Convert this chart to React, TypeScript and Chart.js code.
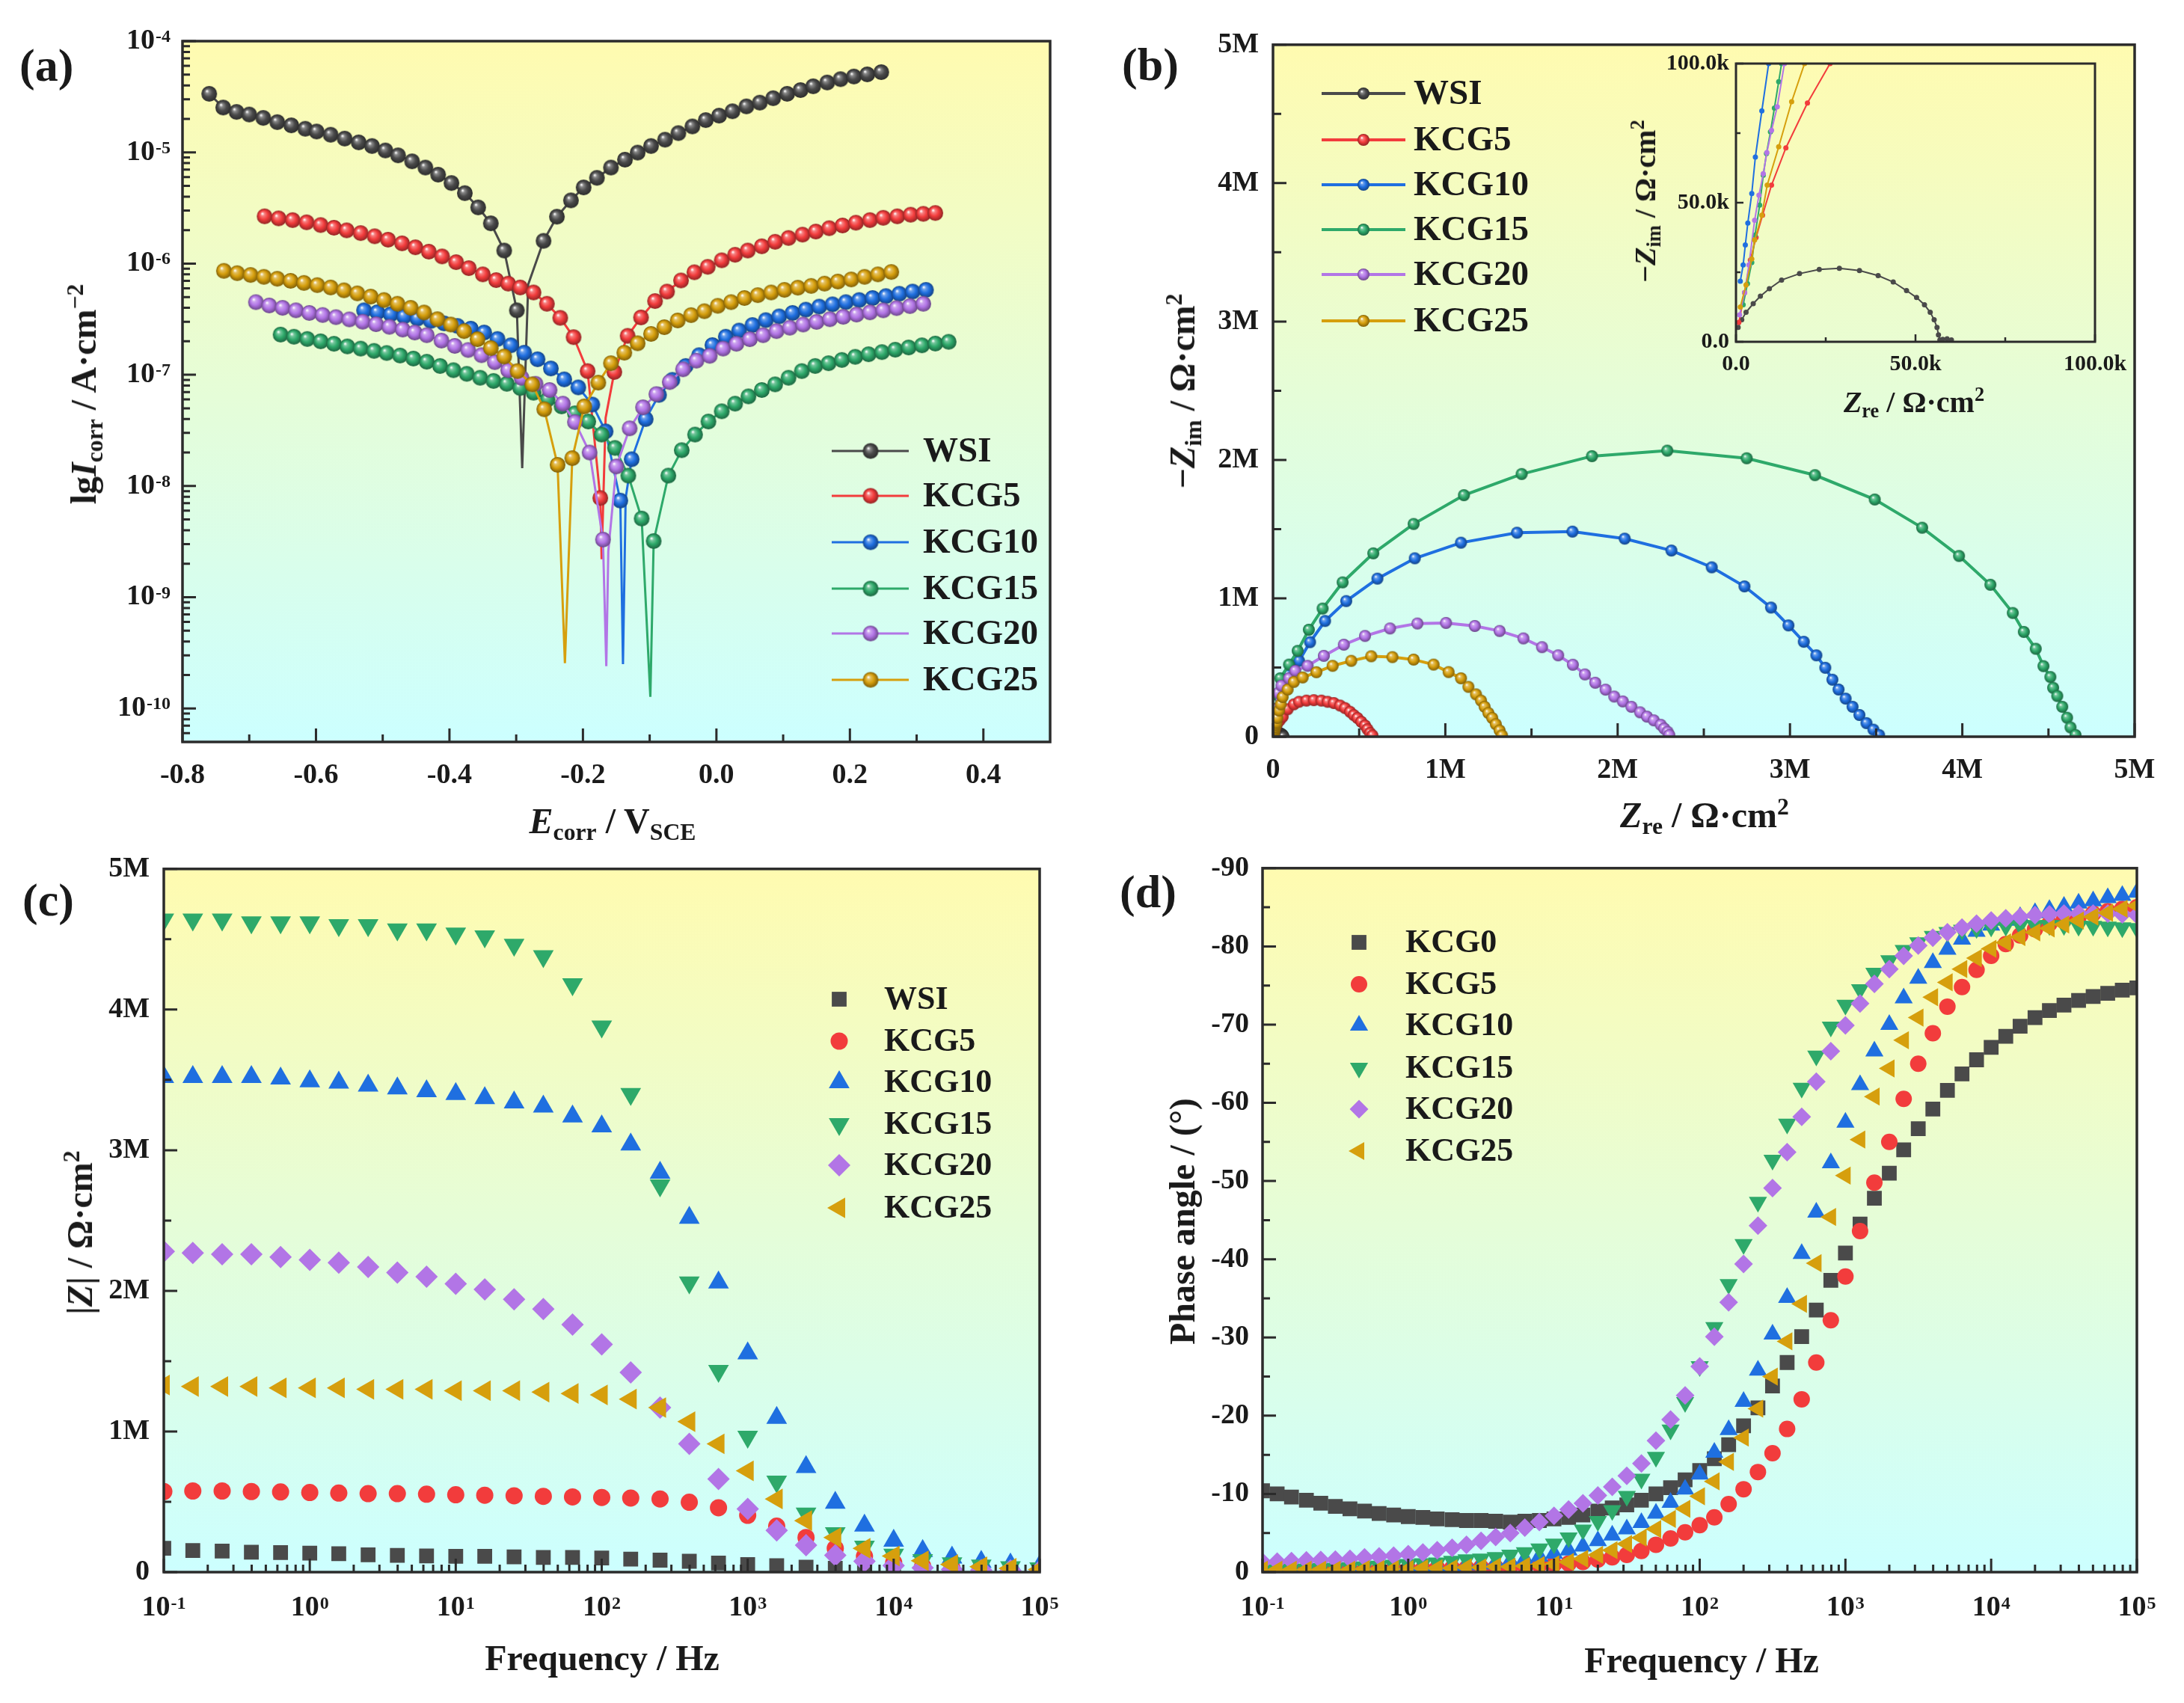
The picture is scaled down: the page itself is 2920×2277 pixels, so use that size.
import React, { useEffect, useRef } from 'react';
import { Chart, registerables } from 'chart.js';

Chart.register(...registerables);

const SERIF = "'Liberation Serif', 'Times New Roman', Times, serif";
const INK = '#1a1a1a';
const FRAME = '#2b2b2b';
const BG_TOP = '#fffbb0';
const BG_BOTTOM = '#ccffff';

const C_WSI = '#4a4a4a';
const C_K5 = '#f23c3c';
const C_K10 = '#1f6fe0';
const C_K15 = '#2ea96a';
const C_K20 = '#b275e6';
const C_K25 = '#d69f0d';
const SERIES_COLORS = [C_WSI, C_K5, C_K10, C_K15, C_K20, C_K25];
const LABELS_ABC = ['WSI', 'KCG5', 'KCG10', 'KCG15', 'KCG20', 'KCG25'];
const LABELS_D = ['KCG0', 'KCG5', 'KCG10', 'KCG15', 'KCG20', 'KCG25'];

// ---------- (a) potentiodynamic polarization: E (V vs SCE), I (A/cm2); lineOnly = indices drawn without marker
const tafelWSI_E = [-0.760, -0.739, -0.719, -0.700, -0.679, -0.658, -0.637, -0.616, -0.599, -0.578, -0.557, -0.536, -0.516, -0.496, -0.477, -0.456, -0.436, -0.417, -0.397, -0.377, -0.357, -0.338, -0.318, -0.299, -0.291, -0.282, -0.259, -0.239, -0.218, -0.199, -0.179, -0.158, -0.137, -0.118, -0.098, -0.077, -0.057, -0.036, -0.016, 0.004, 0.024, 0.045, 0.065, 0.085, 0.106, 0.126, 0.145, 0.166, 0.186, 0.206, 0.226, 0.247];
const tafelWSI_I = [3.36e-5, 2.53e-5, 2.31e-5, 2.19e-5, 2.04e-5, 1.87e-5, 1.75e-5, 1.63e-5, 1.54e-5, 1.44e-5, 1.33e-5, 1.23e-5, 1.14e-5, 1.04e-5, 9.4e-6, 8.3e-6, 7.3e-6, 6.3e-6, 5.3e-6, 4.3e-6, 3.2e-6, 2.3e-6, 1.31e-6, 3.8e-7, 1.45e-8, 6.5e-7, 1.6e-6, 2.64e-6, 3.7e-6, 4.84e-6, 5.9e-6, 7.3e-6, 8.6e-6, 9.95e-6, 1.14e-5, 1.30e-5, 1.49e-5, 1.71e-5, 1.95e-5, 2.14e-5, 2.34e-5, 2.59e-5, 2.80e-5, 3.07e-5, 3.36e-5, 3.63e-5, 3.93e-5, 4.25e-5, 4.55e-5, 4.81e-5, 5.03e-5, 5.26e-5];
const tafelWSI_lineOnly = [24, 25];

const tafelK5_E = [-0.677, -0.656, -0.635, -0.614, -0.593, -0.573, -0.554, -0.533, -0.512, -0.492, -0.471, -0.451, -0.431, -0.411, -0.390, -0.371, -0.350, -0.330, -0.312, -0.294, -0.274, -0.254, -0.234, -0.214, -0.193, -0.174, -0.172, -0.166, -0.153, -0.133, -0.113, -0.092, -0.074, -0.053, -0.033, -0.013, 0.008, 0.028, 0.047, 0.068, 0.088, 0.108, 0.129, 0.149, 0.169, 0.189, 0.209, 0.230, 0.250, 0.271, 0.291, 0.310, 0.328];
const tafelK5_I = [2.66e-6, 2.55e-6, 2.46e-6, 2.35e-6, 2.22e-6, 2.10e-6, 1.99e-6, 1.88e-6, 1.76e-6, 1.64e-6, 1.52e-6, 1.40e-6, 1.28e-6, 1.16e-6, 1.03e-6, 9.1e-7, 8.0e-7, 7.1e-7, 6.6e-7, 6.1e-7, 5.5e-7, 4.35e-7, 3.25e-7, 2.18e-7, 1.08e-7, 7.8e-9, 2.2e-9, 4.1e-8, 1.06e-7, 2.24e-7, 3.28e-7, 4.6e-7, 5.6e-7, 7.05e-7, 8.35e-7, 9.35e-7, 1.07e-6, 1.20e-6, 1.31e-6, 1.43e-6, 1.57e-6, 1.70e-6, 1.82e-6, 1.94e-6, 2.08e-6, 2.20e-6, 2.33e-6, 2.46e-6, 2.58e-6, 2.66e-6, 2.75e-6, 2.80e-6, 2.85e-6];
const tafelK5_lineOnly = [26, 27];

const tafelK10_E = [-0.528, -0.508, -0.488, -0.468, -0.448, -0.428, -0.408, -0.388, -0.368, -0.348, -0.328, -0.308, -0.288, -0.268, -0.248, -0.228, -0.207, -0.186, -0.166, -0.144, -0.140, -0.136, -0.127, -0.106, -0.086, -0.066, -0.046, -0.026, -0.006, 0.014, 0.034, 0.054, 0.074, 0.094, 0.114, 0.134, 0.154, 0.174, 0.194, 0.214, 0.234, 0.254, 0.274, 0.294, 0.314];
const tafelK10_I = [3.8e-7, 3.65e-7, 3.5e-7, 3.35e-7, 3.2e-7, 3.05e-7, 2.9e-7, 2.75e-7, 2.6e-7, 2.4e-7, 2.1e-7, 1.84e-7, 1.58e-7, 1.38e-7, 1.14e-7, 9.1e-8, 7.7e-8, 5.4e-8, 3.1e-8, 7.4e-9, 2.5e-10, 7.8e-9, 1.74e-8, 4.0e-8, 6.6e-8, 9.0e-8, 1.2e-7, 1.5e-7, 1.85e-7, 2.2e-7, 2.5e-7, 2.8e-7, 3.1e-7, 3.35e-7, 3.6e-7, 3.85e-7, 4.1e-7, 4.3e-7, 4.5e-7, 4.7e-7, 4.9e-7, 5.1e-7, 5.35e-7, 5.6e-7, 5.8e-7];
const tafelK10_lineOnly = [20, 21];

const tafelK15_E = [-0.653, -0.633, -0.613, -0.593, -0.573, -0.553, -0.533, -0.513, -0.494, -0.474, -0.454, -0.434, -0.414, -0.394, -0.374, -0.354, -0.334, -0.314, -0.294, -0.274, -0.253, -0.232, -0.212, -0.192, -0.172, -0.152, -0.132, -0.112, -0.099, -0.094, -0.072, -0.052, -0.032, -0.012, 0.008, 0.028, 0.048, 0.068, 0.088, 0.108, 0.128, 0.148, 0.168, 0.188, 0.208, 0.228, 0.248, 0.268, 0.288, 0.308, 0.328, 0.348];
const tafelK15_I = [2.3e-7, 2.2e-7, 2.1e-7, 2.0e-7, 1.9e-7, 1.8e-7, 1.72e-7, 1.64e-7, 1.57e-7, 1.49e-7, 1.4e-7, 1.31e-7, 1.2e-7, 1.1e-7, 1.02e-7, 9.4e-8, 8.8e-8, 8.3e-8, 7.6e-8, 6.9e-8, 6.0e-8, 5.2e-8, 4.5e-8, 3.8e-8, 2.9e-8, 2.2e-8, 1.24e-8, 5.1e-9, 1.27e-10, 3.2e-9, 1.24e-8, 2.1e-8, 2.9e-8, 3.8e-8, 4.7e-8, 5.5e-8, 6.4e-8, 7.3e-8, 8.2e-8, 9.4e-8, 1.08e-7, 1.2e-7, 1.27e-7, 1.36e-7, 1.45e-7, 1.53e-7, 1.6e-7, 1.68e-7, 1.76e-7, 1.84e-7, 1.91e-7, 1.98e-7];
const tafelK15_lineOnly = [28];

const tafelK20_E = [-0.690, -0.670, -0.650, -0.630, -0.610, -0.590, -0.570, -0.550, -0.530, -0.510, -0.490, -0.470, -0.452, -0.434, -0.412, -0.392, -0.372, -0.352, -0.332, -0.312, -0.292, -0.271, -0.250, -0.230, -0.212, -0.190, -0.170, -0.165, -0.162, -0.150, -0.130, -0.110, -0.090, -0.070, -0.050, -0.030, -0.010, 0.010, 0.030, 0.050, 0.070, 0.090, 0.110, 0.130, 0.150, 0.170, 0.190, 0.210, 0.230, 0.250, 0.270, 0.290, 0.310];
const tafelK20_I = [4.5e-7, 4.2e-7, 4.0e-7, 3.8e-7, 3.6e-7, 3.45e-7, 3.3e-7, 3.15e-7, 3.0e-7, 2.85e-7, 2.7e-7, 2.55e-7, 2.4e-7, 2.27e-7, 2.03e-7, 1.82e-7, 1.67e-7, 1.5e-7, 1.3e-7, 1.1e-7, 9.4e-8, 8.3e-8, 7.3e-8, 5.5e-8, 3.76e-8, 2.0e-8, 3.3e-9, 2.4e-10, 2.6e-9, 1.5e-8, 3.3e-8, 5.1e-8, 6.7e-8, 8.6e-8, 1.12e-7, 1.34e-7, 1.48e-7, 1.72e-7, 1.9e-7, 2.09e-7, 2.27e-7, 2.47e-7, 2.65e-7, 2.83e-7, 2.99e-7, 3.16e-7, 3.32e-7, 3.48e-7, 3.64e-7, 3.8e-7, 3.98e-7, 4.15e-7, 4.35e-7];
const tafelK20_lineOnly = [27, 28];

const tafelK25_E = [-0.738, -0.718, -0.698, -0.678, -0.658, -0.638, -0.618, -0.598, -0.578, -0.558, -0.538, -0.518, -0.498, -0.478, -0.458, -0.438, -0.418, -0.398, -0.378, -0.358, -0.338, -0.318, -0.298, -0.276, -0.258, -0.238, -0.227, -0.216, -0.198, -0.177, -0.158, -0.138, -0.118, -0.098, -0.078, -0.058, -0.038, -0.018, 0.002, 0.022, 0.042, 0.062, 0.082, 0.102, 0.122, 0.142, 0.162, 0.182, 0.202, 0.222, 0.242, 0.262];
const tafelK25_I = [8.6e-7, 8.2e-7, 7.9e-7, 7.6e-7, 7.3e-7, 7.0e-7, 6.7e-7, 6.4e-7, 6.1e-7, 5.75e-7, 5.4e-7, 5.05e-7, 4.7e-7, 4.35e-7, 4.0e-7, 3.63e-7, 3.16e-7, 2.83e-7, 2.47e-7, 2.09e-7, 1.74e-7, 1.46e-7, 1.08e-7, 8.2e-8, 4.9e-8, 1.55e-8, 2.55e-10, 1.78e-8, 5.2e-8, 8.5e-8, 1.27e-7, 1.58e-7, 1.92e-7, 2.33e-7, 2.68e-7, 3.08e-7, 3.44e-7, 3.73e-7, 4.17e-7, 4.5e-7, 4.9e-7, 5.2e-7, 5.5e-7, 5.8e-7, 6.07e-7, 6.3e-7, 6.6e-7, 6.9e-7, 7.2e-7, 7.6e-7, 8.0e-7, 8.4e-7];
const tafelK25_lineOnly = [26];

const tafelTicksE = [-0.8, -0.6, -0.4, -0.2, 0, 0.2, 0.4];
const tafelTicksI = [1e-10, 1e-9, 1e-8, 1e-7, 1e-6, 1e-5, 1e-4];

// ---------- (b) Nyquist, values in kOhm cm2
const nyqWSI_re = [0.6, 1.6, 2.8, 4.8, 6.8, 9.3, 12.7, 17.7, 23.2, 28.8, 34.4, 39.6, 43.8, 47.5, 50.3, 52.5, 54.1, 55.2, 56.0, 56.4, 56.8, 57.6, 58.8, 60.0];
const nyqWSI_im = [5.2, 7.9, 10.6, 13.7, 16.4, 19.1, 22.2, 24.5, 26.0, 26.4, 25.6, 23.8, 21.5, 18.4, 15.9, 13.3, 10.6, 7.9, 5.2, 2.5, 0.7, 0.9, 1.1, 0.7];
const nyqK5_re = [0.8, 2.4, 4.0, 5.6, 7.4, 9.9, 13.9, 19.9, 26.2, 40, 56, 85, 121, 151, 194, 237, 281, 317, 353, 389, 418, 447, 469, 490, 512, 534, 548, 563, 577];
const nyqK5_im = [7, 17.7, 29.4, 37.5, 45.5, 56.3, 69.7, 85.8, 100, 120, 144, 198, 234, 252, 261, 264, 261, 252, 243, 225, 207, 180, 156, 135, 108, 81, 54, 27, 9];
const nyqK10_re = [1.2, 2.0, 2.6, 3.3, 4.4, 5.4, 7.2, 9.1, 20, 45, 90, 151, 215, 302, 425, 606, 823, 1091, 1416, 1738, 2041, 2312, 2546, 2736, 2890, 2991, 3080, 3153, 3205, 3246, 3282, 3323, 3363, 3403, 3444, 3484, 3517];
const nyqK10_im = [21.8, 27.6, 34.8, 42.7, 53.3, 66.4, 83, 100, 200, 330, 450, 548, 683, 836, 980, 1142, 1289, 1402, 1474, 1482, 1431, 1345, 1224, 1086, 933, 804, 686, 588, 498, 412, 341, 275, 216, 157, 98, 51, 12];
const nyqK15_re = [2.0, 3.2, 4.4, 5.3, 6.6, 7.6, 8.5, 9.6, 10.7, 11.9, 12.7, 16, 25, 42, 93, 143, 208, 288, 404, 582, 816, 1108, 1443, 1851, 2288, 2749, 3145, 3492, 3767, 3981, 4163, 4293, 4357, 4426, 4471, 4511, 4527, 4551, 4580, 4608, 4628, 4657];
const nyqK15_im = [13.3, 20.9, 28.5, 38.4, 49.1, 59.9, 67.7, 75.5, 84.0, 93.5, 100, 200, 300, 422, 521, 620, 773, 926, 1115, 1325, 1537, 1745, 1898, 2027, 2067, 2012, 1890, 1714, 1510, 1306, 1098, 894, 757, 635, 510, 431, 353, 294, 216, 137, 67, 12];
const nyqK20_re = [1.0, 2.4, 3.6, 5.2, 6.4, 7.6, 8.6, 9.9, 11.5, 13.5, 18, 30, 49, 93, 129, 201, 295, 411, 534, 679, 838, 1004, 1171, 1315, 1453, 1561, 1655, 1740, 1810, 1870, 1930, 1980, 2030, 2080, 2130, 2170, 2210, 2250, 2270, 2290, 2300];
const nyqK20_im = [9.7, 17.7, 27.6, 43.7, 52.7, 60.4, 68, 76, 84.5, 100, 200, 315, 369, 422, 476, 512, 584, 665, 728, 782, 818, 822, 800, 764, 710, 647, 588, 520, 450, 390, 340, 290, 255, 216, 176, 145, 118, 86, 59, 35, 12];
const nyqK25_re = [1.2, 2.8, 4.4, 5.2, 7.2, 8.7, 11.9, 15.5, 19.1, 25, 35, 45, 56, 85, 121, 172, 252, 346, 454, 570, 693, 816, 932, 1019, 1091, 1134, 1178, 1207, 1228, 1250, 1272, 1293, 1315, 1329];
const nyqK25_im = [12.5, 20.4, 29.8, 36.6, 45.5, 56.3, 70.1, 86.3, 100, 135, 189, 234, 287, 341, 396, 428, 466, 512, 548, 581, 575, 557, 521, 467, 422, 360, 306, 261, 216, 171, 135, 90, 45, 9];

const nyqTicksMain = [0, 1000, 2000, 3000, 4000, 5000];
const nyqTicksInset = [0, 50, 100];

// ---------- (c) Bode |Z| (MOhm cm2) vs frequency (Hz)
const freqC = [0.1, 0.158, 0.251, 0.398, 0.631, 1, 1.58, 2.51, 3.98, 6.31, 10, 15.8, 25.1, 39.8, 63.1, 100, 158, 251, 398, 631, 1000, 1580, 2510, 3980, 6310, 10000, 15800, 25100, 39800, 63100, 100000];
const modWSI = [0.17, 0.154, 0.15, 0.142, 0.139, 0.135, 0.131, 0.123, 0.119, 0.115, 0.112, 0.112, 0.108, 0.104, 0.104, 0.1, 0.092, 0.085, 0.077, 0.065, 0.054, 0.046, 0.035, 0.027, 0.019, 0.015, 0.012, 0.008, 0.004, 0.004, 0.004];
const modK5 = [0.573, 0.577, 0.577, 0.573, 0.57, 0.566, 0.562, 0.558, 0.558, 0.554, 0.55, 0.547, 0.543, 0.539, 0.535, 0.531, 0.527, 0.52, 0.497, 0.458, 0.404, 0.327, 0.246, 0.169, 0.112, 0.069, 0.042, 0.027, 0.015, 0.008, 0.004];
const modK10 = [3.52, 3.52, 3.52, 3.52, 3.51, 3.49, 3.48, 3.46, 3.44, 3.42, 3.40, 3.37, 3.34, 3.31, 3.24, 3.17, 3.04, 2.84, 2.52, 2.06, 1.555, 1.097, 0.747, 0.493, 0.331, 0.223, 0.15, 0.104, 0.073, 0.054, 0.042];
const modK15 = [4.64, 4.64, 4.64, 4.62, 4.62, 4.62, 4.60, 4.60, 4.57, 4.57, 4.54, 4.52, 4.46, 4.38, 4.18, 3.88, 3.40, 2.75, 2.06, 1.43, 0.962, 0.643, 0.416, 0.277, 0.181, 0.123, 0.085, 0.062, 0.046, 0.035, 0.027];
const modK20 = [2.28, 2.27, 2.26, 2.26, 2.24, 2.22, 2.20, 2.17, 2.13, 2.10, 2.05, 2.01, 1.94, 1.87, 1.76, 1.62, 1.42, 1.17, 0.912, 0.662, 0.45, 0.296, 0.192, 0.119, 0.077, 0.046, 0.031, 0.019, 0.015, 0.012, 0.008];
const modK25 = [1.33, 1.32, 1.32, 1.32, 1.31, 1.31, 1.31, 1.30, 1.30, 1.30, 1.29, 1.29, 1.29, 1.28, 1.27, 1.26, 1.23, 1.17, 1.07, 0.912, 0.72, 0.52, 0.366, 0.246, 0.169, 0.115, 0.081, 0.054, 0.038, 0.027, 0.019];
const modTicks = [0, 1, 2, 3, 4, 5];

// ---------- (d) Bode phase (deg) vs frequency (Hz)
const freqD = [0.1, 0.126, 0.158, 0.2, 0.251, 0.316, 0.398, 0.501, 0.631, 0.794,
  1, 1.26, 1.58, 2, 2.51, 3.16, 3.98, 5.01, 6.31, 7.94,
  10, 12.6, 15.8, 20, 25.1, 31.6, 39.8, 50.1, 63.1, 79.4,
  100, 126, 158, 200, 251, 316, 398, 501, 631, 794,
  1000, 1260, 1580, 2000, 2510, 3160, 3980, 5010, 6310, 7940,
  10000, 12600, 15800, 20000, 25100, 31600, 39800, 50100, 63100, 79400, 100000];
const phaseK0 = [-10.4, -10.0, -9.6, -9.2, -8.8, -8.4, -8.1, -7.8, -7.5, -7.3,
  -7.1, -7.0, -6.8, -6.7, -6.6, -6.6, -6.5, -6.4, -6.5, -6.6,
  -6.8, -7.0, -7.3, -7.8, -8.2, -8.6, -9.2, -10.0, -10.8, -11.8,
  -13.0, -14.5, -16.3, -18.7, -21.0, -23.8, -26.8, -30.1, -33.5, -37.3,
  -40.8, -44.5, -47.8, -51.0, -54.0, -56.7, -59.2, -61.6, -63.7, -65.5,
  -67.1, -68.5, -69.8, -70.9, -71.8, -72.5, -73.1, -73.6, -74.0, -74.4, -74.7];
const phaseK5 = [-0.3, -0.3, -0.3, -0.3, -0.3, -0.3, -0.3, -0.3, -0.4, -0.4,
  -0.4, -0.4, -0.5, -0.5, -0.5, -0.6, -0.6, -0.7, -0.8, -0.9,
  -1.0, -1.1, -1.3, -1.6, -1.9, -2.2, -2.7, -3.5, -4.3, -5.1,
  -6.0, -7.0, -8.7, -10.6, -12.8, -15.2, -18.3, -22.1, -26.8, -32.2,
  -37.8, -43.6, -49.8, -55.0, -60.5, -65.0, -68.9, -72.3, -74.8, -77.0,
  -78.8, -80.3, -81.4, -82.2, -82.9, -83.4, -83.8, -84.2, -84.5, -84.8, -85.0];
const phaseK10 = [-0.3, -0.3, -0.3, -0.3, -0.3, -0.4, -0.4, -0.4, -0.5, -0.5,
  -0.6, -0.6, -0.7, -0.8, -0.9, -1.0, -1.2, -1.4, -1.7, -2.0,
  -2.4, -2.8, -3.3, -4.0, -4.7, -5.5, -6.3, -7.5, -8.9, -10.6,
  -12.5, -15.3, -18.2, -21.8, -25.8, -30.4, -35.1, -40.7, -46.0, -52.3,
  -57.5, -62.3, -66.6, -70.0, -73.4, -75.9, -77.9, -79.6, -80.9, -81.9,
  -82.7, -83.3, -83.8, -84.3, -84.7, -85.1, -85.5, -85.8, -86.2, -86.5, -86.9];
const phaseK15 = [-0.3, -0.3, -0.4, -0.4, -0.5, -0.5, -0.6, -0.7, -0.8, -0.9,
  -1.0, -1.1, -1.2, -1.4, -1.6, -1.7, -1.9, -2.2, -2.5, -3.0,
  -3.6, -4.4, -5.4, -6.5, -7.9, -9.7, -11.9, -14.7, -18.2, -21.7,
  -26.3, -31.3, -36.8, -41.9, -47.3, -52.7, -57.3, -61.9, -66.0, -69.7,
  -72.5, -74.5, -76.6, -78.2, -79.5, -80.5, -81.3, -81.8, -82.1, -82.3,
  -82.5, -82.6, -82.7, -82.7, -82.7, -82.7, -82.6, -82.6, -82.5, -82.4, -82.3];
const phaseK20 = [-1.3, -1.35, -1.4, -1.5, -1.55, -1.6, -1.7, -1.9, -2.0, -2.1,
  -2.3, -2.5, -2.8, -3.1, -3.5, -4.0, -4.5, -5.0, -5.7, -6.4,
  -7.2, -8.0, -8.8, -9.8, -10.9, -12.3, -13.9, -16.8, -19.5, -22.6,
  -26.3, -30.1, -34.5, -39.4, -44.3, -49.1, -53.7, -58.2, -62.7, -66.6,
  -69.9, -72.7, -75.2, -77.1, -78.8, -80.1, -81.1, -81.8, -82.4, -82.9,
  -83.3, -83.6, -83.8, -84.0, -84.1, -84.2, -84.2, -84.2, -84.2, -84.1, -84.0];
const phaseK25 = [-0.3, -0.3, -0.3, -0.3, -0.3, -0.3, -0.3, -0.4, -0.4, -0.4,
  -0.4, -0.5, -0.5, -0.5, -0.6, -0.6, -0.7, -0.7, -0.8, -0.9,
  -1.0, -1.3, -1.7, -2.2, -2.8, -3.6, -4.4, -5.5, -6.8, -8.1,
  -9.7, -11.6, -14.1, -17.2, -20.9, -25.0, -29.5, -34.3, -39.5, -45.4,
  -50.7, -55.3, -60.8, -64.4, -68.0, -70.9, -73.5, -75.4, -77.1, -78.5,
  -79.7, -80.5, -81.2, -81.8, -82.3, -82.8, -83.3, -83.8, -84.3, -84.8, -85.2];
const phaseTicks = [-90, -80, -70, -60, -50, -40, -30, -20, -10, 0];
const freqTicks = [0.1, 1, 10, 100, 1000, 10000, 100000];

// ---------- helpers
function logMinor(e0: number, e1: number): number[] {
  const out: number[] = [];
  for (let e = e0; e < e1; e++) for (let d = 2; d <= 9; d++) out.push(d * Math.pow(10, e));
  return out;
}
function linMinor(a: number, b: number, step: number): number[] {
  const out: number[] = [];
  for (let v = a; v <= b + 1e-9; v += step) out.push(v);
  return out;
}
function shade(hex: string, f: number): string {
  const n = parseInt(hex.slice(1), 16);
  const ch = [(n >> 16) & 255, (n >> 8) & 255, n & 255];
  const t = f < 0 ? 0 : 255;
  const p = Math.abs(f);
  const m = ch.map((c) => Math.round((t - c) * p + c));
  return `rgb(${m[0]},${m[1]},${m[2]})`;
}
function sphere(color: string, r: number): HTMLCanvasElement {
  const s = Math.ceil(r * 2 + 2);
  const c = document.createElement('canvas');
  c.width = s;
  c.height = s;
  const g = c.getContext('2d')!;
  const cx = s / 2, cy = s / 2;
  const grad = g.createRadialGradient(cx - r * 0.3, cy - r * 0.36, r * 0.04, cx, cy, r);
  grad.addColorStop(0, '#ffffff');
  grad.addColorStop(0.2, shade(color, 0.35));
  grad.addColorStop(0.55, color);
  grad.addColorStop(1, shade(color, -0.4));
  g.fillStyle = grad;
  g.beginPath();
  g.arc(cx, cy, r, 0, Math.PI * 2);
  g.fill();
  return c;
}

type Mk = { label: string; color: string; style: string; rot: number; r: number; img?: HTMLCanvasElement };
function drawMarker(ctx: CanvasRenderingContext2D, m: Mk, x: number, y: number) {
  if (m.img) {
    ctx.drawImage(m.img, x - m.img.width / 2, y - m.img.height / 2);
    return;
  }
  ctx.fillStyle = m.color;
  ctx.beginPath();
  const r = m.r;
  let rad = (m.rot * Math.PI) / 180;
  if (m.style === 'circle') ctx.arc(x, y, r, 0, Math.PI * 2);
  else if (m.style === 'rect') {
    const s = r * Math.SQRT1_2;
    ctx.rect(x - s, y - s, 2 * s, 2 * s);
  } else if (m.style === 'rectRot') {
    ctx.moveTo(x - r, y);
    ctx.lineTo(x, y - r);
    ctx.lineTo(x + r, y);
    ctx.lineTo(x, y + r);
    ctx.closePath();
  } else {
    for (let k = 0; k < 3; k++) {
      const px = x + Math.sin(rad) * r, py = y - Math.cos(rad) * r;
      if (k === 0) ctx.moveTo(px, py);
      else ctx.lineTo(px, py);
      rad += (2 * Math.PI) / 3;
    }
    ctx.closePath();
  }
  ctx.fill();
}

type FrameOpts = { bg: boolean; xMinor: number[]; yMinor: number[]; major: number; minor: number; tickW: number; frameW: number };
function framePlugin(o: FrameOpts) {
  return {
    id: 'frameTicks',
    beforeDatasetsDraw(chart: any) {
      if (!o.bg) return;
      const { ctx, chartArea: a } = chart;
      const g = ctx.createLinearGradient(0, a.top, 0, a.bottom);
      g.addColorStop(0, BG_TOP);
      g.addColorStop(1, BG_BOTTOM);
      ctx.save();
      ctx.fillStyle = g;
      ctx.fillRect(a.left, a.top, a.right - a.left, a.bottom - a.top);
      ctx.restore();
    },
    afterDatasetsDraw(chart: any) {
      const { ctx, chartArea: a, scales } = chart;
      const xs = scales.x, ys = scales.y;
      ctx.save();
      ctx.strokeStyle = FRAME;
      ctx.lineWidth = o.tickW;
      ctx.beginPath();
      xs.ticks.forEach((t: any) => {
        const p = xs.getPixelForValue(t.value);
        ctx.moveTo(p, a.bottom);
        ctx.lineTo(p, a.bottom - o.major);
      });
      o.xMinor.forEach((v) => {
        const p = xs.getPixelForValue(v);
        if (p <= a.left + 1 || p >= a.right - 1) return;
        ctx.moveTo(p, a.bottom);
        ctx.lineTo(p, a.bottom - o.minor);
      });
      ys.ticks.forEach((t: any) => {
        const p = ys.getPixelForValue(t.value);
        ctx.moveTo(a.left, p);
        ctx.lineTo(a.left + o.major, p);
      });
      o.yMinor.forEach((v) => {
        const p = ys.getPixelForValue(v);
        if (p <= a.top + 1 || p >= a.bottom - 1) return;
        ctx.moveTo(a.left, p);
        ctx.lineTo(a.left + o.minor, p);
      });
      ctx.stroke();
      ctx.lineWidth = o.frameW;
      ctx.strokeRect(a.left, a.top, a.right - a.left, a.bottom - a.top);
      ctx.restore();
    },
  };
}

// draws "10" with a raised exponent for the decade ticks of a logarithmic axis
function powLabelPlugin(o: { axis: 'x' | 'y'; size: number; supSize: number; offset: number }) {
  return {
    id: 'powLabels',
    afterDraw(chart: any) {
      const { ctx, chartArea: a } = chart;
      const s = chart.scales[o.axis];
      ctx.save();
      ctx.fillStyle = INK;
      ctx.textAlign = 'left';
      s.ticks.forEach((t: any) => {
        const e = Math.round(Math.log10(t.value));
        const base = '10';
        const exp = String(e);
        ctx.font = `bold ${o.size}px ${SERIF}`;
        const wb = ctx.measureText(base).width;
        ctx.font = `bold ${o.supSize}px ${SERIF}`;
        const we = ctx.measureText(exp).width;
        let x0: number, yc: number;
        if (o.axis === 'y') {
          yc = s.getPixelForValue(t.value);
          x0 = a.left - o.offset - we - wb - 1;
        } else {
          const px = s.getPixelForValue(t.value);
          yc = a.bottom + o.offset;
          x0 = px - (wb + we + 1) / 2;
        }
        ctx.font = `bold ${o.size}px ${SERIF}`;
        ctx.textBaseline = 'middle';
        ctx.fillText(base, x0, yc);
        ctx.font = `bold ${o.supSize}px ${SERIF}`;
        ctx.textBaseline = 'alphabetic';
        ctx.fillText(exp, x0 + wb + 1, yc + 1);
      });
      ctx.restore();
    },
  };
}

type LegendOpts = { items: Mk[]; lineX1?: number; lineX2?: number; lineW?: number; markerX: number; textX: number; rows: number[]; font: number };
function legendPlugin(o: LegendOpts) {
  return {
    id: 'panelLegend',
    afterDraw(chart: any) {
      const ctx: CanvasRenderingContext2D = chart.ctx;
      ctx.save();
      ctx.font = `bold ${o.font}px ${SERIF}`;
      ctx.textAlign = 'left';
      ctx.textBaseline = 'middle';
      o.items.forEach((it, i) => {
        const y = o.rows[i];
        if (o.lineX1 !== undefined && o.lineX2 !== undefined) {
          ctx.strokeStyle = it.color;
          ctx.lineWidth = o.lineW || 3;
          ctx.beginPath();
          ctx.moveTo(o.lineX1, y);
          ctx.lineTo(o.lineX2, y);
          ctx.stroke();
        }
        drawMarker(ctx, it, o.markerX, y);
        ctx.fillStyle = INK;
        ctx.fillText(it.label, o.textX, y + 2);
      });
      ctx.restore();
    },
  };
}

const tickFont = (size: number) => ({ family: SERIF, size, weight: 'bold' as const });

function axisBase(fontSize: number, padding: number, callback: (v: number) => string, fixed: number, horizontal: boolean, ticks: number[]) {
  return {
    grid: { display: false, drawTicks: false },
    border: { display: false },
    afterBuildTicks: (s: any) => {
      s.ticks = ticks.map((v) => ({ value: v }));
    },
    afterFit: (s: any) => {
      if (horizontal) s.height = fixed;
      else s.width = fixed;
    },
    ticks: {
      font: tickFont(fontSize),
      color: INK,
      padding,
      autoSkip: false,
      maxRotation: 0,
      minRotation: 0,
      callback: (v: any) => callback(Number(v)),
    },
  };
}
const blank = () => '';

const commonOpts = (pad: { top: number; right: number }) => ({
  animation: false as const,
  responsive: false,
  maintainAspectRatio: false,
  devicePixelRatio: 1,
  events: [] as any[],
  layout: { padding: { left: 0, top: pad.top, right: pad.right, bottom: 0 } },
  plugins: { legend: { display: false }, tooltip: { enabled: false } },
});

// ---------- layout (page pixels)
const CA = { left: 40, top: 15, w: 1420, h: 1075 };
const CB = { left: 1520, top: 18, w: 1395, h: 1075 };
const CI = { left: 2220, top: 55, w: 650, h: 470 };
const CC = { left: 40, top: 1120, w: 1420, h: 1100 };
const CD = { left: 1520, top: 1120, w: 1395, h: 1100 };

function configA(): any {
  const series = [
    { E: tafelWSI_E, I: tafelWSI_I, skip: tafelWSI_lineOnly },
    { E: tafelK5_E, I: tafelK5_I, skip: tafelK5_lineOnly },
    { E: tafelK10_E, I: tafelK10_I, skip: tafelK10_lineOnly },
    { E: tafelK15_E, I: tafelK15_I, skip: tafelK15_lineOnly },
    { E: tafelK20_E, I: tafelK20_I, skip: tafelK20_lineOnly },
    { E: tafelK25_E, I: tafelK25_I, skip: tafelK25_lineOnly },
  ];
  const R = 10.5;
  const imgs = SERIES_COLORS.map((c) => sphere(c, R));
  const datasets = series.map((s, i) => ({
    label: LABELS_ABC[i],
    data: s.E.map((e, j) => ({ x: e, y: s.I[j] })),
    showLine: true,
    borderColor: SERIES_COLORS[i],
    borderWidth: 3,
    pointStyle: imgs[i],
    pointRadius: s.E.map((_, j) => (s.skip.includes(j) ? 0 : R)),
    pointHoverRadius: 0,
    order: -i,
  }));
  const items: Mk[] = LABELS_ABC.map((l, i) => ({ label: l, color: SERIES_COLORS[i], style: 'sphere', rot: 0, r: R, img: imgs[i] }));
  return {
    type: 'scatter',
    data: { datasets },
    options: {
      ...commonOpts({ top: 40, right: 56 }),
      scales: {
        x: { type: 'linear', min: -0.8, max: 0.5, ...axisBase(38, 22, (v) => v.toFixed(1), 98, true, tafelTicksE) },
        y: { type: 'logarithmic', min: 5e-11, max: 1e-4, ...axisBase(38, 16, blank, 204, false, tafelTicksI) },
      },
    },
    plugins: [
      framePlugin({ bg: true, xMinor: linMinor(-0.7, 0.5, 0.2), yMinor: logMinor(-11, -4), major: 18, minor: 10, tickW: 3, frameW: 3.5 }),
      powLabelPlugin({ axis: 'y', size: 38, supSize: 24, offset: 16 }),
      legendPlugin({ items, lineX1: 1112 - CA.left, lineX2: 1215 - CA.left, lineW: 3, markerX: 1164 - CA.left, textX: 1234 - CA.left, rows: [603, 663, 725, 787, 847, 909].map((y) => y - CA.top), font: 47 }),
    ],
  };
}

function nyqSeries() {
  return [
    { re: nyqWSI_re, im: nyqWSI_im },
    { re: nyqK5_re, im: nyqK5_im },
    { re: nyqK10_re, im: nyqK10_im },
    { re: nyqK15_re, im: nyqK15_im },
    { re: nyqK20_re, im: nyqK20_im },
    { re: nyqK25_re, im: nyqK25_im },
  ];
}

function configB(): any {
  const R = 8;
  const imgs = SERIES_COLORS.map((c) => sphere(c, R));
  const datasets = nyqSeries().map((s, i) => ({
    label: LABELS_ABC[i],
    data: s.re.map((x, j) => ({ x, y: s.im[j] })),
    showLine: true,
    borderColor: SERIES_COLORS[i],
    borderWidth: 4,
    pointStyle: imgs[i],
    pointRadius: R,
    pointHoverRadius: 0,
    order: -i,
  }));
  const items: Mk[] = LABELS_ABC.map((l, i) => ({ label: l, color: SERIES_COLORS[i], style: 'sphere', rot: 0, r: R, img: imgs[i] }));
  const mLabel = (v: number) => (v === 0 ? '0' : `${v / 1000}M`);
  return {
    type: 'scatter',
    data: { datasets },
    options: {
      ...commonOpts({ top: 40, right: 61 }),
      scales: {
        x: { type: 'linear', min: 0, max: 5000, ...axisBase(38, 22, mLabel, 108, true, nyqTicksMain) },
        y: { type: 'linear', min: 0, max: 5000, ...axisBase(38, 19, mLabel, 182, false, nyqTicksMain) },
      },
    },
    plugins: [
      framePlugin({ bg: true, xMinor: linMinor(500, 4500, 1000), yMinor: linMinor(500, 4500, 1000), major: 18, minor: 11, tickW: 3, frameW: 3.5 }),
      legendPlugin({ items, lineX1: 1767 - CB.left, lineX2: 1879 - CB.left, lineW: 4, markerX: 1823 - CB.left, textX: 1890 - CB.left, rows: [125, 187, 247, 307, 367, 429].map((y) => y - CB.top), font: 47 }),
    ],
  };
}

function configInset(): any {
  const datasets = nyqSeries().map((s, i) => ({
    label: LABELS_ABC[i],
    data: s.re.map((x, j) => ({ x, y: s.im[j] })),
    showLine: true,
    borderColor: SERIES_COLORS[i],
    borderWidth: 2,
    pointStyle: 'circle',
    pointBackgroundColor: SERIES_COLORS[i],
    pointBorderWidth: 0,
    pointRadius: 3.5,
    pointHoverRadius: 0,
    clip: 0,
    order: -i,
  }));
  const kLabel = (v: number) => (v === 0 ? '0.0' : `${v.toFixed(1)}k`);
  return {
    type: 'scatter',
    data: { datasets },
    options: {
      ...commonOpts({ top: 30, right: 69 }),
      scales: {
        x: { type: 'linear', min: 0, max: 100, ...axisBase(30, 12, kLabel, 68, true, nyqTicksInset) },
        y: { type: 'linear', min: 0, max: 100, ...axisBase(30, 9, kLabel, 101, false, nyqTicksInset) },
      },
    },
    plugins: [framePlugin({ bg: false, xMinor: [25, 75], yMinor: [25, 75], major: 10, minor: 6, tickW: 2.5, frameW: 3 })],
  };
}

const MARKERS_C = [
  { style: 'rect', rot: 0, r: 14 },
  { style: 'circle', rot: 0, r: 11.5 },
  { style: 'triangle', rot: 0, r: 16 },
  { style: 'triangle', rot: 180, r: 16 },
  { style: 'rectRot', rot: 0, r: 15 },
  { style: 'triangle', rot: -90, r: 16 },
];
const MARKERS_D = [
  { style: 'rect', rot: 0, r: 14 },
  { style: 'circle', rot: 0, r: 11 },
  { style: 'triangle', rot: 0, r: 14 },
  { style: 'triangle', rot: 180, r: 14 },
  { style: 'rectRot', rot: 0, r: 12.5 },
  { style: 'triangle', rot: -90, r: 14 },
];

function configC(): any {
  const vals = [modWSI, modK5, modK10, modK15, modK20, modK25];
  const datasets = vals.map((arr, i) => ({
    label: LABELS_ABC[i],
    data: freqC.map((f, j) => ({ x: f, y: arr[j] })),
    showLine: false,
    pointStyle: MARKERS_C[i].style,
    rotation: MARKERS_C[i].rot,
    pointRadius: MARKERS_C[i].r,
    pointHoverRadius: 0,
    pointBackgroundColor: SERIES_COLORS[i],
    pointBorderWidth: 0,
    clip: 0,
    order: -i,
  }));
  const items: Mk[] = LABELS_ABC.map((l, i) => ({ label: l, color: SERIES_COLORS[i], ...MARKERS_C[i] }));
  return {
    type: 'scatter',
    data: { datasets },
    options: {
      ...commonOpts({ top: 40, right: 70 }),
      scales: {
        x: { type: 'logarithmic', min: 0.1, max: 100000, ...axisBase(38, 28, blank, 118, true, freqTicks) },
        y: { type: 'linear', min: 0, max: 5, ...axisBase(38, 19, (v) => (v === 0 ? '0' : `${v}M`), 179, false, modTicks) },
      },
    },
    plugins: [
      framePlugin({ bg: true, xMinor: logMinor(-1, 5), yMinor: linMinor(0.5, 4.5, 1), major: 18, minor: 10, tickW: 3, frameW: 3.5 }),
      powLabelPlugin({ axis: 'x', size: 38, supSize: 24, offset: 48 }),
      legendPlugin({ items, markerX: 1122 - CC.left, textX: 1182 - CC.left, rows: [1336, 1392, 1447, 1503, 1558, 1615].map((y) => y - CC.top), font: 44 }),
    ],
  };
}

function configD(): any {
  const vals = [phaseK0, phaseK5, phaseK10, phaseK15, phaseK20, phaseK25];
  const datasets = vals.map((arr, i) => ({
    label: LABELS_D[i],
    data: freqD.map((f, j) => ({ x: f, y: arr[j] })),
    showLine: false,
    pointStyle: MARKERS_D[i].style,
    rotation: MARKERS_D[i].rot,
    pointRadius: MARKERS_D[i].r,
    pointHoverRadius: 0,
    pointBackgroundColor: SERIES_COLORS[i],
    pointBorderWidth: 0,
    clip: 0,
    order: -i,
  }));
  const items: Mk[] = LABELS_D.map((l, i) => ({ label: l, color: SERIES_COLORS[i], ...MARKERS_D[i] }));
  return {
    type: 'scatter',
    data: { datasets },
    options: {
      ...commonOpts({ top: 40, right: 58 }),
      scales: {
        x: { type: 'logarithmic', min: 0.1, max: 100000, ...axisBase(38, 28, blank, 118, true, freqTicks) },
        y: { type: 'linear', min: -90, max: 0, reverse: true, ...axisBase(38, 18, (v) => String(Math.round(v)), 168, false, phaseTicks) },
      },
    },
    plugins: [
      framePlugin({ bg: true, xMinor: logMinor(-1, 5), yMinor: linMinor(-85, -5, 10), major: 18, minor: 10, tickW: 3, frameW: 3.5 }),
      powLabelPlugin({ axis: 'x', size: 38, supSize: 24, offset: 48 }),
      legendPlugin({ items, markerX: 1817 - CD.left, textX: 1879 - CD.left, rows: [1260, 1316, 1371, 1428, 1483, 1539].map((y) => y - CD.top), font: 44 }),
    ],
  };
}

const subS: React.CSSProperties = { fontSize: '0.66em', verticalAlign: '-0.28em', lineHeight: 0 };
const supS: React.CSSProperties = { fontSize: '0.66em', verticalAlign: '0.55em', lineHeight: 0 };

function Label(props: { x: number; y: number; size: number; rot?: boolean; left?: boolean; children: React.ReactNode }) {
  const { x, y, size, rot, left, children } = props;
  const tr = left ? 'translate(0,-50%)' : `translate(-50%,-50%)${rot ? ' rotate(-90deg)' : ''}`;
  return (
    <div style={{ position: 'absolute', left: x, top: y, transform: tr, font: `bold ${size}px ${SERIF}`, whiteSpace: 'nowrap', color: INK, lineHeight: 1 }}>
      {children}
    </div>
  );
}

function Cv(props: { r: React.RefObject<HTMLCanvasElement>; box: { left: number; top: number; w: number; h: number } }) {
  const { r, box } = props;
  return <canvas ref={r} width={box.w} height={box.h} style={{ position: 'absolute', left: box.left, top: box.top, width: box.w, height: box.h }} />;
}

export default function App() {
  const aRef = useRef<HTMLCanvasElement>(null);
  const bRef = useRef<HTMLCanvasElement>(null);
  const iRef = useRef<HTMLCanvasElement>(null);
  const cRef = useRef<HTMLCanvasElement>(null);
  const dRef = useRef<HTMLCanvasElement>(null);

  useEffect(() => {
    const charts = [
      new Chart(aRef.current!, configA()),
      new Chart(bRef.current!, configB()),
      new Chart(iRef.current!, configInset()),
      new Chart(cRef.current!, configC()),
      new Chart(dRef.current!, configD()),
    ];
    return () => charts.forEach((c) => c.destroy());
  }, []);

  return (
    <div style={{ position: 'absolute', left: 0, top: 0, width: 2920, height: 2277, background: '#ffffff', overflow: 'hidden' }}>
      <Cv r={aRef} box={CA} />
      <Cv r={bRef} box={CB} />
      <Cv r={iRef} box={CI} />
      <Cv r={cRef} box={CC} />
      <Cv r={dRef} box={CD} />

      <Label x={26} y={87} size={62} left>(a)</Label>
      <Label x={1500} y={86} size={62} left>(b)</Label>
      <Label x={30} y={1203} size={62} left>(c)</Label>
      <Label x={1497} y={1192} size={62} left>(d)</Label>

      <Label x={819} y={1098} size={48}>
        <i>E</i><sub style={subS}>corr</sub> / V<sub style={subS}>SCE</sub>
      </Label>
      <Label x={112} y={527} size={48} rot>
        lg<i>I</i><sub style={subS}>corr</sub> / A·cm<sup style={supS}>−2</sup>
      </Label>

      <Label x={2279} y={1090} size={48}>
        <i>Z</i><sub style={subS}>re</sub> / Ω·cm<sup style={supS}>2</sup>
      </Label>
      <Label x={1581} y={523} size={48} rot>
        −<i>Z</i><sub style={subS}>im</sub> / Ω·cm<sup style={supS}>2</sup>
      </Label>
      <Label x={2559} y={538} size={40}>
        <i>Z</i><sub style={subS}>re</sub> / Ω·cm<sup style={supS}>2</sup>
      </Label>
      <Label x={2200} y={269} size={40} rot>
        −<i>Z</i><sub style={subS}>im</sub> / Ω·cm<sup style={supS}>2</sup>
      </Label>

      <Label x={805} y={2217} size={48}>Frequency / Hz</Label>
      <Label x={107} y={1648} size={48} rot>
        |<i>Z</i>| / Ω·cm<sup style={supS}>2</sup>
      </Label>

      <Label x={2275} y={2220} size={48}>Frequency / Hz</Label>
      <Label x={1581} y={1633} size={48} rot>Phase angle / (°)</Label>
    </div>
  );
}
